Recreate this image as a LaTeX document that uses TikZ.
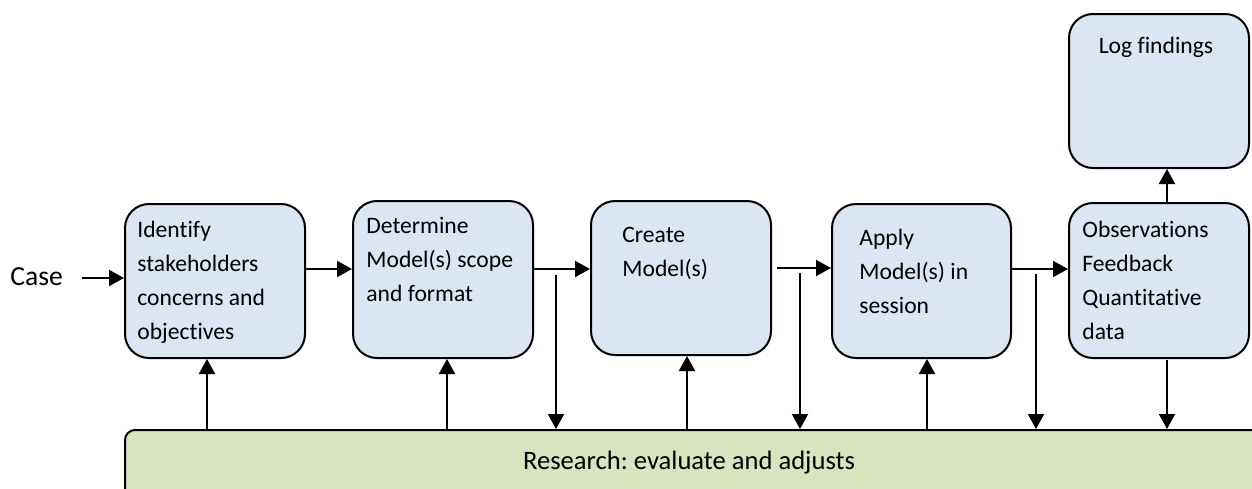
\documentclass[tikz,border=0pt]{standalone}
\usepackage{fontspec}
\setmainfont{Carlito}[Ligatures=NoCommon]
\usetikzlibrary{arrows.meta}
\definecolor{boxblue}{HTML}{DCE6F2}
\definecolor{boxgreen}{HTML}{D7E4BD}
\frenchspacing
\begin{document}
\begin{tikzpicture}[x=0.5pt,y=-0.5pt,
  stepbox/.style={draw=black, line width=1pt, fill=boxblue, rounded corners=12pt, inner sep=0pt, anchor=north west},
  resbox/.style={draw=black, line width=1pt, fill=boxgreen, rounded corners=5pt, inner sep=0pt, anchor=north west},
  txt/.style={inner sep=0pt, align=left, anchor=north west, font=\fontsize{11.8}{17}\selectfont},
  arr/.style={-{Triangle[length=7.5pt,width=8pt]}, line width=1pt}]
\clip (0,0) rectangle (1252,488);
\fill[white] (0,0) rectangle (1252,488);
% boxes
\node[stepbox, minimum width=90pt, minimum height=77pt] (b1) at (124,203) {};
\node[stepbox, minimum width=90pt, minimum height=78.5pt] (b2) at (352,200) {};
\node[stepbox, minimum width=90pt, minimum height=77pt] (b3) at (590,200) {};
\node[stepbox, minimum width=89.5pt, minimum height=77pt] (b4) at (831,203) {};
\node[stepbox, minimum width=90pt, minimum height=77.5pt] (b5) at (1068,202) {};
\node[stepbox, minimum width=90pt, minimum height=77pt] (log) at (1068,13) {};
\node[resbox, minimum width=570pt, minimum height=45pt] (res) at (124,429) {};
% texts
\node[txt] (t1) at (137,213) {\strut Identify\\stakeholders\\concerns and\\objectives};
\node[txt] (t2) at (366,209) {\strut Determine\\Model(s) scope\\and format};
\node[txt] (t3) at (622,218) {\strut Create\\Model(s)};
\node[txt] (t4) at (859,221) {\strut Apply\\Model(s) in\\session};
\node[txt] (t5) at (1082,213) {\strut Observations\\Feedback\\Quantitative\\data};
\node[txt, anchor=north] (t6) at (1156,29) {\strut Log findings};
\node[txt, anchor=base, font=\fontsize{13.3}{17}\selectfont] (t7) at (689,469) {Research: evaluate and adjusts};
\node[txt, anchor=base west, font=\fontsize{13.8}{17}\selectfont] (case) at (10,285) {Case};
% horizontal arrows
\coordinate (c0) at (82,278);
\draw[arr] (c0) -- (b1.west |- c0);
\draw[arr] (b1.east |- 0,269) -- (b2.west |- 0,269);
\draw[arr] (b2.east |- 0,269) -- (b3.west |- 0,269);
\coordinate (c34) at (777,268);
\draw[arr] (c34) -- (b4.west |- c34);
\draw[arr] (b4.east |- 0,269) -- (b5.west |- 0,269);
\draw[arr] (b5.north -| 1167,0) -- (log.south -| 1167,0);
% up arrows from research
\foreach \x/\b in {207/b1, 447/b2, 687/b3, 927/b4}
  \draw[arr] (res.north -| \x,0) -- (\b.south -| \x,0);
% down arrows to research
\coordinate (d1) at (556,275);
\coordinate (d2) at (800,273);
\coordinate (d3) at (1036,274);
\coordinate (d4) at (1167,360);
\foreach \d in {d1,d2,d3,d4}
  \draw[arr] (\d) -- (res.north -| \d);
\end{tikzpicture}
\end{document}
